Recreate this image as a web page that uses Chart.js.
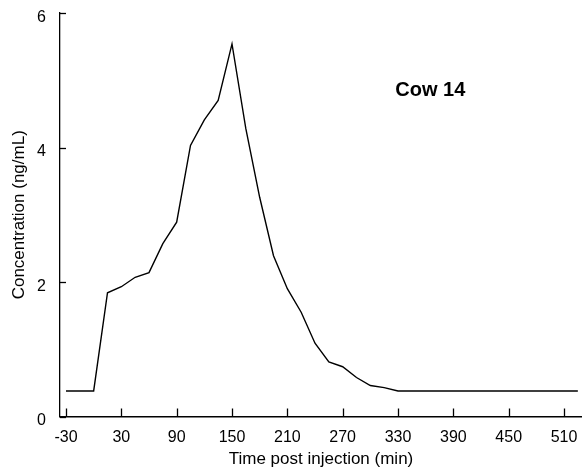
<!DOCTYPE html>
<html>
<head>
<meta charset="utf-8">
<script src="https://cdn.jsdelivr.net/npm/chart.js@4.4.0/dist/chart.umd.min.js"></script>
<style>
  body { margin: 0; background: #fff; }
  #wrap { width: 582px; height: 475px; position: relative; }
</style>
</head>
<body>
<div id="wrap"><canvas id="concChart"></canvas></div>
<script>
// Time post injection (min) and concentration (ng/mL)
const timeMin = [-30, -15, 0, 15, 30, 45, 60, 75, 90, 105, 120, 135, 150, 165, 180, 195, 210, 225, 240, 255, 270, 285, 300, 315, 330, 360, 390, 420, 450, 480, 510, 525];
const concentration = [0.38, 0.38, 0.38, 1.84, 1.93, 2.07, 2.14, 2.57, 2.89, 4.03, 4.41, 4.70, 5.54, 4.28, 3.26, 2.39, 1.90, 1.55, 1.09, 0.81, 0.74, 0.58, 0.46, 0.43, 0.38, 0.38, 0.38, 0.38, 0.38, 0.38, 0.38, 0.38];

const xTickValues = [-30, 30, 90, 150, 210, 270, 330, 390, 450, 510];
const yTickValues = [0, 2, 4, 6];

const labelText = "Cow 14";
const labelAt = { x: 365, y: 4.85 };

const FONT = "'Liberation Sans', Arial, sans-serif";

// draws the short inward tick marks and the "Cow 14" label
const inwardTicks = {
  id: "inwardTicks",
  afterDraw(chart) {
    const { ctx, scales } = chart;
    const x = scales.x;
    const y = scales.y;
    ctx.save();
    ctx.strokeStyle = "#000";
    ctx.lineWidth = 1.3;
    xTickValues.forEach((v) => {
      const px = Math.round(x.getPixelForValue(v)) + 0.5;
      ctx.beginPath();
      ctx.moveTo(px, y.bottom);
      ctx.lineTo(px, y.bottom - 8);
      ctx.stroke();
    });
    yTickValues.forEach((v) => {
      const py = Math.round(y.getPixelForValue(v)) + 0.5;
      ctx.beginPath();
      ctx.moveTo(x.left, py);
      ctx.lineTo(x.left + 6, py);
      ctx.stroke();
    });
    ctx.fillStyle = "#000";
    ctx.font = "bold 20px " + FONT;
    ctx.textAlign = "center";
    ctx.textBaseline = "middle";
    ctx.fillText(labelText, x.getPixelForValue(labelAt.x), y.getPixelForValue(labelAt.y));
    ctx.restore();
  },
};

const ctx = document.getElementById("concChart").getContext("2d");

const config = {
  type: "line",
  data: {
    datasets: [
      {
        label: "Cow 14",
        data: timeMin.map((t, i) => ({ x: t, y: concentration[i] })),
        borderColor: "#000",
        borderWidth: 1.4,
        pointRadius: 0,
        fill: false,
        tension: 0,
      },
    ],
  },
  options: {
    responsive: true,
    maintainAspectRatio: false,
    animation: false,
    layout: { padding: { top: 13, right: 0, left: 0, bottom: 0 } },
    plugins: {
      legend: { display: false },
      tooltip: { enabled: false },
    },
    scales: {
      x: {
        type: "linear",
        position: "bottom",
        min: -36.5,
        max: 529.5,
        afterBuildTicks: (scale) => {
          scale.ticks = xTickValues.map((v) => ({ value: v }));
        },
        afterFit: (scale) => {
          scale.height = 58.5;
          scale.paddingLeft = 0;
          scale.paddingRight = 0;
        },
        grid: { display: false, drawTicks: false },
        border: { display: true, color: "#000", width: 1.5 },
        ticks: {
          color: "#000",
          font: { family: FONT, size: 16 },
          padding: 11,
          maxRotation: 0,
          autoSkip: false,
        },
        title: {
          display: true,
          text: "Time post injection (min)",
          color: "#000",
          font: { family: FONT, size: 17 },
          padding: { top: 0, bottom: 5 },
        },
      },
      y: {
        min: 0,
        max: 6,
        afterBuildTicks: (scale) => {
          scale.ticks = yTickValues.map((v) => ({ value: v }));
        },
        afterFit: (scale) => {
          scale.width = 60;
          scale.paddingTop = 0;
          scale.paddingBottom = 0;
        },
        grid: { display: false, drawTicks: false },
        border: { display: true, color: "#000", width: 1.3 },
        ticks: {
          color: "#000",
          font: { family: FONT, size: 16 },
          padding: 14,
          labelOffset: 4.5,
        },
        title: {
          display: true,
          text: "Concentration (ng/mL)",
          color: "#000",
          font: { family: FONT, size: 17 },
          padding: { top: 9, bottom: 0 },
        },
      },
    },
  },
  plugins: [inwardTicks],
};

new Chart(ctx, config);
</script>
</body>
</html>
